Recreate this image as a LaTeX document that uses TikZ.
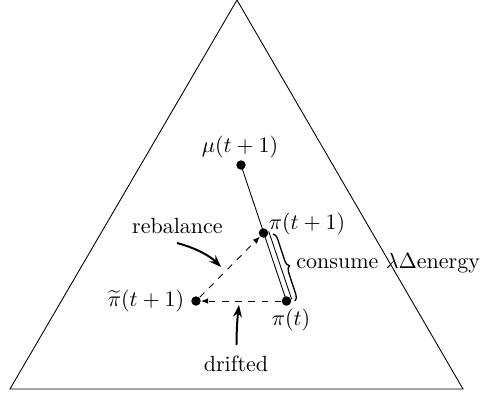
\documentclass[tikz,border=0pt]{standalone}
\usetikzlibrary{arrows.meta,decorations.pathreplacing}
\begin{document}
\begin{tikzpicture}[x=0.4545pt,y=-0.4545pt,
  dot/.style={circle,fill=black,inner sep=0pt,minimum size=4.3pt},
  lbl/.style={inner sep=0pt},
  thin line/.style={line width=0.4pt},
  dasharrow/.style={dashed,line width=0.4pt,-{Latex[length=3.2pt,width=2.6pt]}},
  callout/.style={line width=0.9pt,-{Stealth[length=5.5pt,width=4pt]}}]
\useasboundingbox (0,0) rectangle (481,399);
% simplex
\coordinate (A) at (237,0);
\coordinate (B) at (10,389);
\coordinate (C) at (463,389);
\draw[thin line] (A) -- (B) -- (C) -- cycle;
% points
\node[dot] (mu) at (241,165) {};
\node[dot] (p1) at (263.5,233) {};
\node[dot] (pt) at (286.5,301) {};
\node[dot] (pw) at (196,301) {};
% labels
\node[lbl] (lmu) at (240,147) {$\mu(t+1)$};
\node[lbl] (lp1) at (307,224) {$\pi(t+1)$};
\node[lbl] (lpt) at (291,320) {$\pi(t)$};
\node[lbl] (lpw) at (146,301) {$\widetilde{\pi}(t+1)$};
\node[lbl] (lreb) at (177.5,226) {rebalance};
\node[lbl] (ldri) at (236,364) {drifted};
\node[lbl,anchor=west] (lcon) at (296,263) {consume $\lambda\Delta$energy};
% solid lines
\draw[thin line] (mu.center) -- (pt.center);
\draw[thin line] ([shift={(5.2,-1.7)}]p1.center) -- ([shift={(5.2,-1.7)}]pt.center);
% brace
\draw[line width=0.6pt,decorate,decoration={brace,amplitude=2.6pt}] (273,234) -- (295,301);
% dashed arrows
\draw[dasharrow] (pt) -- (pw);
\draw[dasharrow] (pw) -- (p1);
% callout arrows
\coordinate (r0) at (177,243);
\coordinate (r1) at (221,267);
\draw[callout] (r0) .. controls (196,248) and (210,256) .. (r1);
\coordinate (d0) at (236.5,345);
\coordinate (d1) at (239,305);
\draw[callout] (d0) .. controls (236.5,330) and (237.5,317) .. (d1);
\end{tikzpicture}
\end{document}
